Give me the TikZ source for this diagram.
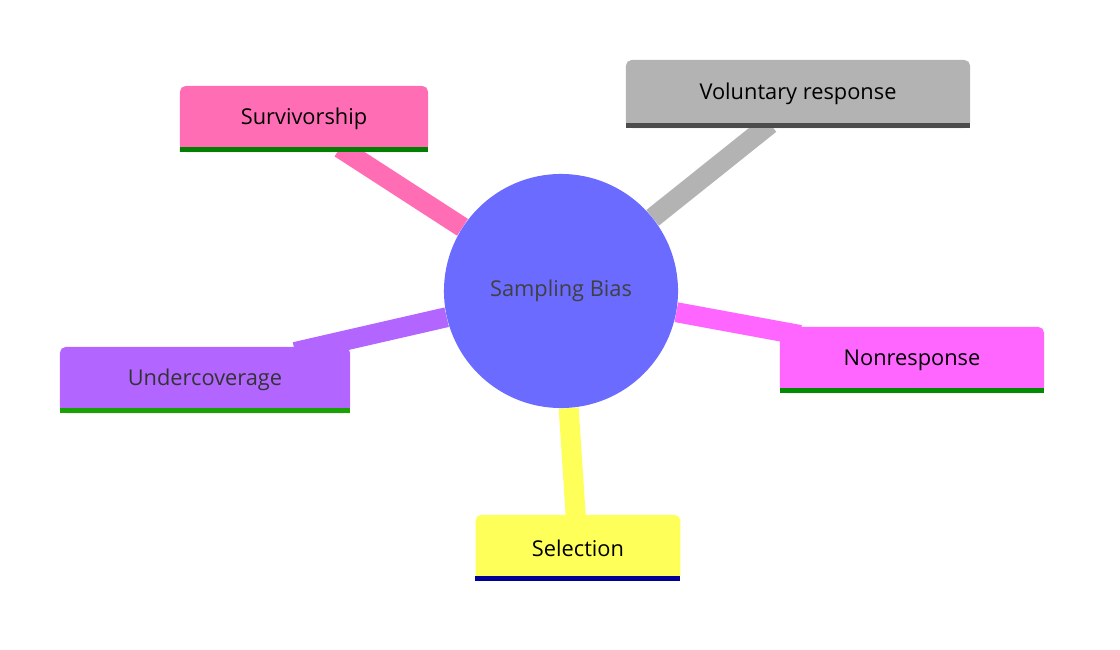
\documentclass[tikz,border=0pt]{standalone}
\usepackage{fontspec}
\setmainfont{Open Sans}
\usetikzlibrary{backgrounds}
\definecolor{hub}{HTML}{6B6BFF}
\definecolor{surv}{HTML}{FF6EB4}
\definecolor{volu}{HTML}{B3B3B3}
\definecolor{nonr}{HTML}{FF66FF}
\definecolor{undc}{HTML}{B266FF}
\definecolor{selc}{HTML}{FFFF59}
\tikzset{
  leaf/.style={rounded corners=4pt, minimum height=1.65cm*0.01/0.01*0.0+1.65cm, inner sep=0pt, text=black, font=\fontsize{15.5}{18}\selectfont},
  branch/.style={line width=0.5cm, line cap=butt},
}
\begin{document}
\begin{tikzpicture}[x=0.025cm, y=-0.025cm]
    \useasboundingbox (0,0) rectangle (1120,650);
    \node (c) at (561,291) [shape=circle, fill=hub, minimum size=5.85cm, inner sep=0pt, text=black!75, font=\fontsize{15.5}{18}\selectfont] {Sampling Bias};

    \node (sv) at (304,119) [leaf, fill=surv, minimum width=6.2cm] {Survivorship};
    \node (vr) at (798,94) [leaf, fill=volu, minimum width=8.6cm, minimum height=1.7cm] {Voluntary response};
    \node (nr) at (912,360) [leaf, fill=nonr, minimum width=6.6cm] {Nonresponse};
    \node (uc) at (205,380) [leaf, fill=undc, minimum width=7.25cm, text=black!80] {Undercoverage};
    \node (se) at (578,548) [leaf, fill=selc, minimum width=5.12cm] {Selection};

    \fill[green!50!black] (sv.south west) rectangle ++(0,-5);
    \fill[black!70] (vr.south west) rectangle ++(344,-5);
    \fill[green!55!black] (nr.south west) rectangle ++(264,-5);
    \fill[green!60!black!90!yellow] (uc.south west) rectangle ++(290,-5);
    \fill[blue!60!black] (se.south west) rectangle ++(205,-5);
    \fill[green!50!black] (sv.south west) rectangle ++(248,-5);

    \coordinate (svend) at (340,148);
    \coordinate (vrend) at (770,124);
    \coordinate (nrend) at (800,335);
    \coordinate (ucend) at (295,352);
    \coordinate (seend) at (576,520);

    \begin{scope}[on background layer]
    \draw[branch, surv] (svend) -- (c);
    \draw[branch, volu] (vrend) -- (c);
    \draw[branch, nonr] (nrend) -- (c);
    \draw[branch, undc] (ucend) -- (c);
    \draw[branch, selc] (seend) -- (c);
    \end{scope}
\end{tikzpicture}
\end{document}
